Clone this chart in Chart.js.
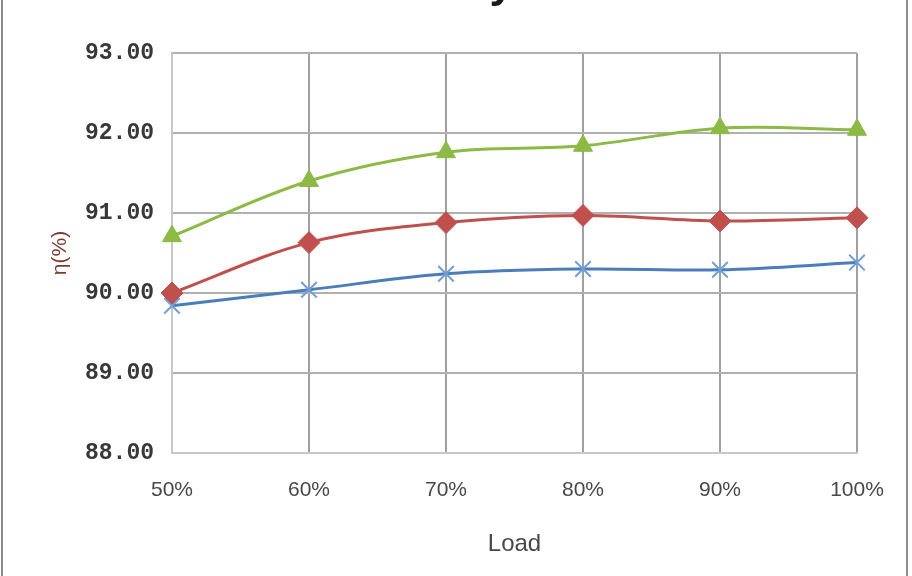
<!DOCTYPE html>
<html>
<head>
<meta charset="utf-8">
<script src="https://cdn.jsdelivr.net/npm/chart.js@4.4.1/dist/chart.umd.min.js"></script>
<style>
  html, body { margin: 0; padding: 0; background: #fff; }
  #wrap { position: relative; width: 912px; height: 576px; }
  canvas { display: block; }
</style>
</head>
<body>
<div id="wrap"><canvas id="c" width="912" height="576"></canvas></div>
<script>
const titleText = "Efficiency";
const categories = ["50%", "60%", "70%", "80%", "90%", "100%"];
const seriesGreen = [90.71, 91.40, 91.76, 91.84, 92.06, 92.04];
const seriesRed = [90.00, 90.63, 90.88, 90.97, 90.90, 90.94];
const seriesBlue = [89.84, 90.04, 90.24, 90.30, 90.29, 90.38];
const yMin = 88, yMax = 93, yStep = 1;
const xTitle = "Load";
const yTitle = "η(%)";

const framePlugin = {
  id: 'frame',
  beforeDraw(chart) {
    const ctx = chart.ctx;
    ctx.save();
    ctx.fillStyle = '#ffffff';
    ctx.fillRect(0, 0, chart.width, chart.height);
    ctx.strokeStyle = '#8c8c8c';
    ctx.lineWidth = 2;
    ctx.beginPath();
    ctx.moveTo(2, 0); ctx.lineTo(2, chart.height);
    ctx.moveTo(907, 0); ctx.lineTo(907, chart.height);
    ctx.stroke();
    ctx.restore();
  },
  afterDraw(chart) {
    const ctx = chart.ctx;
    ctx.save();
    ctx.font = 'bold 44px "Liberation Sans", Arial, sans-serif';
    ctx.fillStyle = '#1a1a1a';
    ctx.textAlign = 'right';
    ctx.textBaseline = 'alphabetic';
    ctx.fillText(titleText, 514, -3);
    ctx.restore();
  }
};

new Chart(document.getElementById('c'), {
  type: 'line',
  data: {
    labels: categories,
    datasets: [
      {
        label: 'A', data: seriesGreen,
        borderColor: '#8cba45', backgroundColor: '#8cba45',
        borderWidth: 3, pointStyle: 'triangle', pointRadius: 11, pointHoverRadius: 11,
        pointBorderWidth: 1, tension: 0.35
      },
      {
        label: 'B', data: seriesRed,
        borderColor: '#c0504d', backgroundColor: '#c0504d',
        borderWidth: 3, pointStyle: 'rectRot', pointRadius: 11, pointHoverRadius: 11,
        pointBorderWidth: 1, tension: 0.35
      },
      {
        label: 'C', data: seriesBlue,
        borderColor: '#4a7ebb', backgroundColor: '#4a7ebb',
        pointBorderColor: '#6f9fd8',
        borderWidth: 3, pointStyle: 'crossRot', pointRadius: 11, pointHoverRadius: 11,
        pointBorderWidth: 2, tension: 0.35
      }
    ]
  },
  options: {
    responsive: false,
    animation: false,
    events: [],
    layout: { padding: { top: 53, right: 55, bottom: 10, left: 0 } },
    plugins: {
      legend: { display: false },
      title: { display: false },
      tooltip: { enabled: false }
    },
    scales: {
      x: {
        grid: { color: '#a0a0a0', lineWidth: 2, drawTicks: false },
        border: { color: '#c8c8c8', width: 2 },
        ticks: {
          color: '#484848', padding: 25,
          font: { family: '"Liberation Sans", Arial, sans-serif', size: 21 }
        },
        title: {
          display: true, text: xTitle, color: '#484848',
          font: { family: '"Liberation Sans", Arial, sans-serif', size: 24 },
          padding: { top: 12, bottom: 7 }
        },
        afterFit(scale) { scale.height = 113; }
      },
      y: {
        min: yMin, max: yMax,
        grid: { color: '#b0b0b0', lineWidth: 2, drawTicks: false },
        border: { color: '#c8c8c8', width: 2 },
        ticks: {
          stepSize: yStep, color: '#383838', padding: 18,
          font: { family: '"Liberation Mono", "DejaVu Sans Mono", monospace', size: 23, weight: 'bold' },
          callback: v => Number(v).toFixed(2)
        },
        title: {
          display: true, text: yTitle, color: '#7a3a30',
          font: { family: '"Liberation Sans", Arial, sans-serif', size: 21 },
          padding: { top: 48, bottom: 0 }
        },
        afterFit(scale) { scale.width = 172; }
      }
    }
  },
  plugins: [framePlugin]
});
</script>
</body>
</html>
